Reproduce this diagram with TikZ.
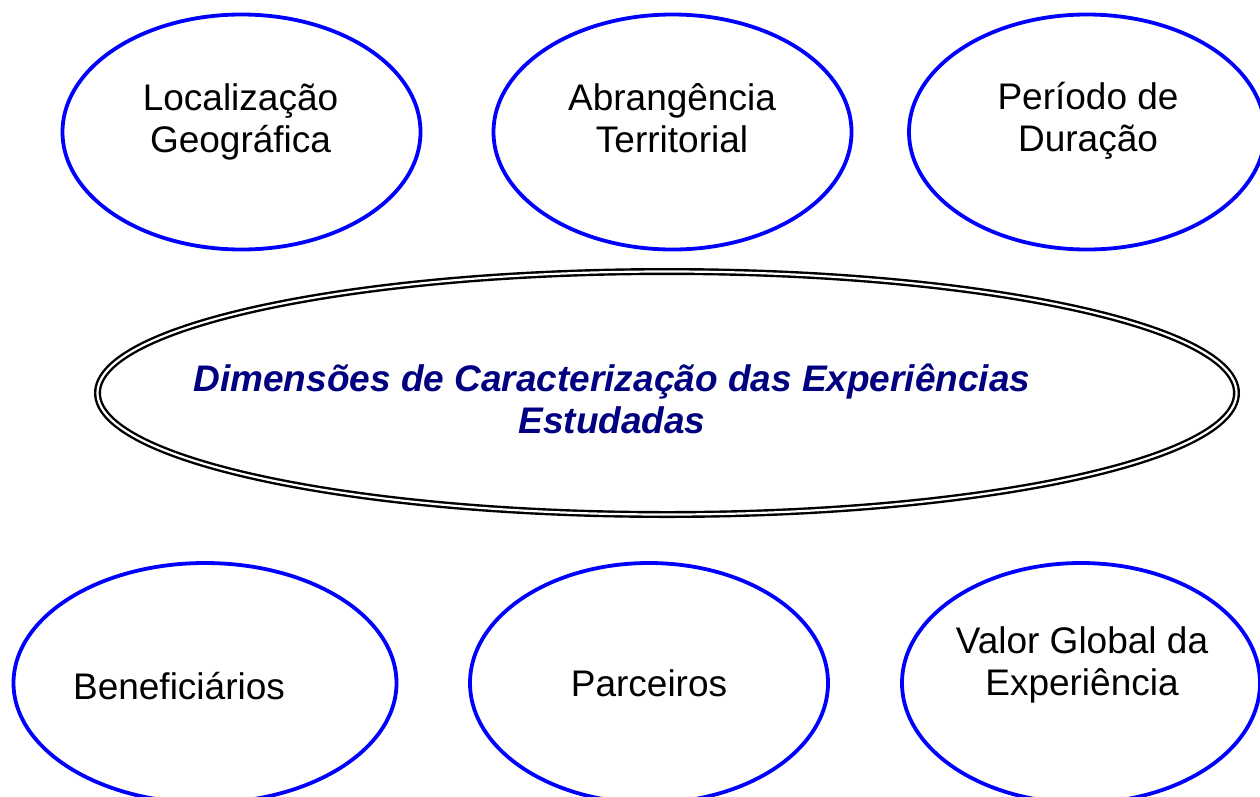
\documentclass[tikz,border=0pt]{standalone}
\usepackage{fontspec}
\setmainfont{Liberation Sans}
\usetikzlibrary{shapes.geometric}
\definecolor{ovalblue}{RGB}{0,0,255}
\definecolor{navytext}{RGB}{0,0,128}
\begin{document}
\begin{tikzpicture}[x=1pt,y=-1pt,
  oval/.style={ellipse, draw=ovalblue, line width=3.8pt, inner sep=0pt, outer sep=0pt},
  bigoval/.style={ellipse, draw=black, line width=2.4pt, double=white, double distance=2.2pt, inner sep=0pt, outer sep=0pt},
  lbl/.style={font=\fontsize{37}{42}\selectfont, align=center, inner sep=0pt, anchor=base, text=black},
  biglbl/.style={font=\fontsize{37}{42}\selectfont\bfseries\itshape, align=center, inner sep=0pt, anchor=base, text=navytext}]
\useasboundingbox (0,0) rectangle (1260,796);
\clip (0,0) rectangle (1260,796);
% top row
\node[oval, minimum width=358pt, minimum height=235pt] (loc) at (241.5,132) {};
\node[oval, minimum width=358pt, minimum height=235pt] (abr) at (672.5,132) {};
\node[oval, minimum width=356pt, minimum height=235pt] (per) at (1087,132) {};
% centre
\node[bigoval, minimum width=1139pt, minimum height=243pt] (dim) at (667,393) {};
% bottom row
\node[oval, minimum width=383pt, minimum height=240pt] (ben) at (205,683) {};
\node[oval, minimum width=358pt, minimum height=240pt] (par) at (649,683) {};
\node[oval, minimum width=358pt, minimum height=240pt] (val) at (1081,683) {};
% texts (base anchor = baseline of last line)
\node[lbl] (locT) at (240.5,152) {Localização\\Geográfica};
\node[lbl] (abrT) at (672,152) {Abrangência\\Territorial};
\node[lbl] (perT) at (1088,151) {Período de\\Duração};
\node[biglbl] (dimT) at (612,433) {Dimensões de Caracterização das Experiências\\Estudadas};
\node[lbl] (benT) at (179,699) {Beneficiários};
\node[lbl] (parT) at (649,696) {Parceiros};
\node[lbl] (valT) at (1082,695) {Valor Global da\\Experiência};
\end{tikzpicture}
\end{document}
